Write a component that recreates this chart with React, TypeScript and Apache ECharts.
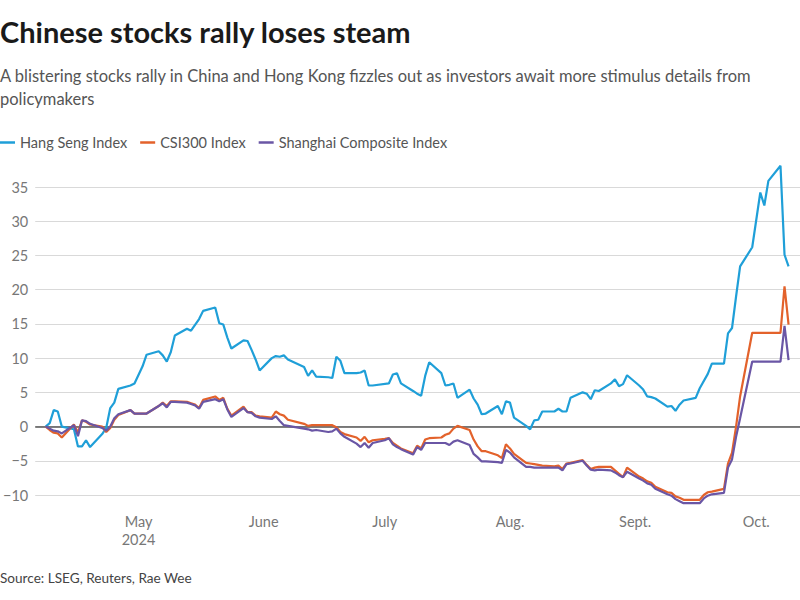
import React, { useEffect, useRef } from 'react';
import * as echarts from 'echarts';

const TITLE = 'Chinese stocks rally loses steam';
const SUBTITLE =
  'A blistering stocks rally in China and Hong Kong fizzles out as investors await more stimulus details from\npolicymakers';
const SOURCE = 'Source: LSEG, Reuters, Rae Wee';

const SERIES_NAMES = ['Hang Seng Index', 'CSI300 Index', 'Shanghai Composite Index'];
const COLORS = ['#1f9fd8', '#e3622b', '#6a56a5'];

// trading days (2024)
const dates = [
  '2024-04-08', '2024-04-09', '2024-04-10', '2024-04-11', '2024-04-12',
  '2024-04-15', '2024-04-16', '2024-04-17', '2024-04-18', '2024-04-19',
  '2024-04-22', '2024-04-23', '2024-04-24', '2024-04-25', '2024-04-26',
  '2024-04-29', '2024-04-30', '2024-05-02', '2024-05-03',
  '2024-05-06', '2024-05-07', '2024-05-08', '2024-05-09', '2024-05-10',
  '2024-05-13', '2024-05-14', '2024-05-15', '2024-05-16', '2024-05-17',
  '2024-05-20', '2024-05-21', '2024-05-22', '2024-05-23', '2024-05-24',
  '2024-05-27', '2024-05-28', '2024-05-29', '2024-05-30', '2024-05-31',
  '2024-06-03', '2024-06-04', '2024-06-05', '2024-06-06', '2024-06-07',
  '2024-06-11', '2024-06-12', '2024-06-13', '2024-06-14',
  '2024-06-17', '2024-06-18', '2024-06-19', '2024-06-20', '2024-06-21',
  '2024-06-24', '2024-06-25', '2024-06-26', '2024-06-27', '2024-06-28',
  '2024-07-01', '2024-07-02', '2024-07-03', '2024-07-04', '2024-07-05',
  '2024-07-08', '2024-07-09', '2024-07-10', '2024-07-11', '2024-07-12',
  '2024-07-15', '2024-07-16', '2024-07-17', '2024-07-18', '2024-07-19',
  '2024-07-22', '2024-07-23', '2024-07-24', '2024-07-25', '2024-07-26',
  '2024-07-29', '2024-07-30', '2024-07-31', '2024-08-01', '2024-08-02',
  '2024-08-05', '2024-08-06', '2024-08-07', '2024-08-08', '2024-08-09',
  '2024-08-12', '2024-08-13', '2024-08-14', '2024-08-15', '2024-08-16',
  '2024-08-19', '2024-08-20', '2024-08-21', '2024-08-22', '2024-08-23',
  '2024-08-26', '2024-08-27', '2024-08-28', '2024-08-29', '2024-08-30',
  '2024-09-02', '2024-09-03', '2024-09-04', '2024-09-05', '2024-09-06',
  '2024-09-09', '2024-09-10', '2024-09-11', '2024-09-12', '2024-09-13',
  '2024-09-16', '2024-09-17', '2024-09-18', '2024-09-19', '2024-09-20',
  '2024-09-23', '2024-09-24', '2024-09-25', '2024-09-26', '2024-09-27',
  '2024-09-30', '2024-10-02', '2024-10-03', '2024-10-04',
  '2024-10-07', '2024-10-08', '2024-10-09',
];

// % change since 8 April
const hangSeng = [
  0, 0.5, 2.4, 2.2, 0.0,
  -0.4, -2.9, -2.9, -2.0, -3.0,
  -1.1, -0.2, 2.7, 3.5, 5.5,
  6.0, 6.3, 8.8, 10.5,
  11.0, 10.4, 9.5, 10.9, 13.3,
  14.3, 14.0, null, 15.7, 16.9,
  17.4, 15.1, 14.9, 13.0, 11.4,
  12.6, 12.5, 11.2, 9.8, 8.2,
  10.0, 10.3, 10.2, 10.4, 9.8,
  8.7, 7.4, 8.2, 7.3,
  7.2, 7.1, 10.2, 9.6, 7.8,
  7.8, 7.9, 8.2, 6.0, 6.0,
  null, 6.3, 7.6, 7.8, 6.3,
  5.2, 4.8, 4.5, 7.4, 9.4,
  7.8, 6.0, 6.1, 6.3, 4.2,
  5.4, 4.1, 3.2, 1.8, 1.9,
  3.0, 1.8, 3.7, 3.5, 1.3,
  0.1, -0.4, 0.9, 1.0, 2.2,
  2.2, 2.6, 2.2, 2.2, 4.2,
  5.0, 4.8, 4.0, 5.3, 5.2,
  6.3, 6.9, 5.9, 6.2, 7.5,
  6.0, 5.4, 4.4, 4.3, 4.1,
  2.9, 3.0, 2.3, 3.2, 3.8,
  4.2, 5.6, null, 7.7, 9.2,
  9.2, 13.6, 14.4, 19.0, 23.4,
  26.2, 34.2, 32.3, 35.9,
  38.1, 25.1, 23.4,
];

const csi300 = [
  0, -0.5, -0.9, -1.0, -1.6,
  0.3, -0.9, 0.9, 0.7, 0.3,
  0.0, -0.8, -0.2, 1.0, 1.7,
  2.4, 1.9, 1.9, 1.9,
  3.0, 3.5, 3.0, 3.7, 3.7,
  3.6, 3.4, 3.2, 2.7, 3.9,
  4.4, 3.9, 4.2, 2.6, 1.6,
  2.9, 2.1, 2.1, 1.6, 1.5,
  1.3, 2.2, 1.8, 1.6, 1.0,
  0.4, 0.1, 0.2, 0.2,
  0.2, 0.2, -0.1, -0.8, -1.1,
  -1.6, -2.1, -1.5, -2.3, -2.0,
  -1.8, -1.7, -2.4, -2.8, -3.2,
  -3.9, -2.8, -3.2, -1.9, -1.7,
  -1.6, -1.2, -1.0, -0.3, 0.1,
  -0.5, -1.9, -2.9, -3.6, -3.6,
  -4.2, -4.6, -2.6, -3.2, -4.0,
  -5.3, -5.4, -5.5, -5.6, -5.7,
  -5.8, -5.7, -6.2, -5.4, -5.3,
  -4.9, -5.6, -6.2, -6.0, -5.9,
  -5.9, -6.4, -6.9, -7.4, -6.0,
  -7.3, -7.6, -8.0, -8.2, -8.8,
  -9.6, -9.7, -10.2, -10.4, -10.7,
  -10.7, -10.7, -10.0, -9.6, -9.5,
  -9.1, -5.4, -3.8, 0.0, 4.4,
  13.7, 13.7, 13.7, 13.7,
  13.7, 20.5, 14.9,
];

const shanghai = [
  0, -0.3, -0.6, -0.7, -1.0,
  0.2, -1.4, 0.9, 0.8, 0.4,
  -0.2, -0.6, 0.0, 1.2, 1.8,
  2.4, 1.9, 1.9, 1.9,
  3.0, 3.4, 2.8, 3.6, 3.6,
  3.5, 3.3, 3.1, 2.6, 3.6,
  4.0, 3.7, 4.0, 2.5, 1.4,
  2.7, 2.1, 2.0, 1.5, 1.3,
  1.1, 1.5, 0.8, 0.2, 0.1,
  -0.3, -0.4, -0.6, -0.5,
  -0.8, -0.7, -0.3, -1.0, -1.5,
  -2.5, -3.0, -2.4, -3.1, -2.4,
  -2.0, -1.7, -2.6, -3.0, -3.3,
  -4.1, -3.0, -3.4, -2.4, -2.4,
  -2.4, -2.4, -2.7, -2.2, -2.0,
  -2.7, -4.0, -4.5, -5.1, -5.1,
  -5.2, -5.3, -3.4, -3.8, -4.5,
  -5.9, -5.9, -6.0, -6.0, -6.0,
  -6.0, -6.0, -6.4, -5.5, -5.4,
  -5.0, -5.7, -6.3, -6.4, -6.3,
  -6.4, -6.7, -7.1, -7.4, -6.6,
  -7.6, -7.9, -8.3, -8.5, -9.1,
  -9.9, -10.1, -10.6, -10.9, -11.2,
  -11.2, -11.2, -10.5, -10.1, -9.9,
  -9.7, -6.0, -4.8, -1.5, 1.2,
  9.5, 9.5, 9.5, 9.5,
  9.5, 14.7, 9.7,
];

const monthTicks = ['2024-05-01', '2024-06-01', '2024-07-01', '2024-08-01', '2024-09-01', '2024-10-01'];
const monthLabels = ['May\n2024', 'June', 'July', 'Aug.', 'Sept.', 'Oct.'];

const X_MIN = '2024-04-05 10:00';
const X_MAX = '2024-10-11 20:00';
const Y_MIN = -10;
const Y_MAX = 35;
const Y_STEP = 5;

const FONT = 'Lato';

export default function App() {
  const ref = useRef<HTMLDivElement>(null);

  useEffect(() => {
    if (!ref.current) return;
    const chart = echarts.init(ref.current, undefined, { renderer: 'svg' });
    const parse = (s: string) => +echarts.time.parse(s);
    const tickVals = monthTicks.map(parse);
    const seriesValues = [hangSeng, csi300, shanghai];

    chart.setOption({
      animation: false,
      textStyle: { fontFamily: FONT },
      title: [
        {
          text: TITLE,
          left: 0,
          top: 17,
          padding: 0,
          textStyle: { fontFamily: FONT, fontSize: 29, fontWeight: 'bold', color: '#1a1a1a' },
        },
        {
          text: SUBTITLE,
          left: 0,
          top: 64,
          padding: 0,
          textStyle: { fontFamily: FONT, fontSize: 16.5, fontWeight: 'normal', color: '#555', lineHeight: 23 },
        },
        {
          text: SOURCE,
          left: 0,
          top: 571,
          padding: 0,
          textStyle: { fontFamily: FONT, fontSize: 13.6, fontWeight: 'normal', color: '#444' },
        },
      ],
      legend: {
        left: 0,
        top: 135,
        padding: 0,
        icon: 'rect',
        itemWidth: 15,
        itemHeight: 2.5,
        itemGap: 13,
        textStyle: { fontFamily: FONT, fontSize: 14.5, color: '#555' },
        data: SERIES_NAMES,
      },
      grid: { left: 30, right: 0, top: 187, bottom: 105, containLabel: false },
      xAxis: {
        type: 'value',
        min: parse(X_MIN),
        max: parse(X_MAX),
        axisLine: { show: false },
        axisTick: { show: false },
        splitLine: { show: false },
        axisLabel: {
          customValues: tickVals,
          formatter: (v: number) => {
            const i = tickVals.findIndex((t) => Math.abs(t - v) < 3600000);
            return i >= 0 ? monthLabels[i] : '';
          },
          fontFamily: FONT,
          fontSize: 14.5,
          color: '#777',
          lineHeight: 18,
          margin: 17,
          hideOverlap: false,
        },
      },
      yAxis: {
        type: 'value',
        min: Y_MIN,
        max: Y_MAX,
        interval: Y_STEP,
        axisLine: { show: false },
        axisTick: { show: false },
        splitLine: { lineStyle: { color: '#d9d9d9', width: 1 } },
        axisLabel: {
          fontFamily: FONT,
          fontSize: 14.5,
          color: '#777',
          margin: 7,
          formatter: (v: number) => String(v).replace('-', '\u2212'),
        },
      },
      series: SERIES_NAMES.map((name, i) => ({
        name,
        type: 'line',
        data: dates.map((d, j) => [parse(d), seriesValues[i][j]]),
        showSymbol: false,
        symbol: 'none',
        connectNulls: true,
        clip: false,
        color: COLORS[i],
        lineStyle: { color: COLORS[i], width: 2.2 },
        z: 3 + i,
        markLine:
          i === 0
            ? {
                silent: true,
                symbol: 'none',
                label: { show: false },
                lineStyle: { color: '#555', width: 1.5, type: 'solid' },
                data: [{ yAxis: 0 }],
                z: 1,
              }
            : undefined,
      })),
    });

    return () => chart.dispose();
  }, []);

  return (
    <div
      ref={ref}
      style={{ position: 'absolute', left: 0, top: 0, width: 800, height: 600, background: '#fff' }}
    />
  );
}
